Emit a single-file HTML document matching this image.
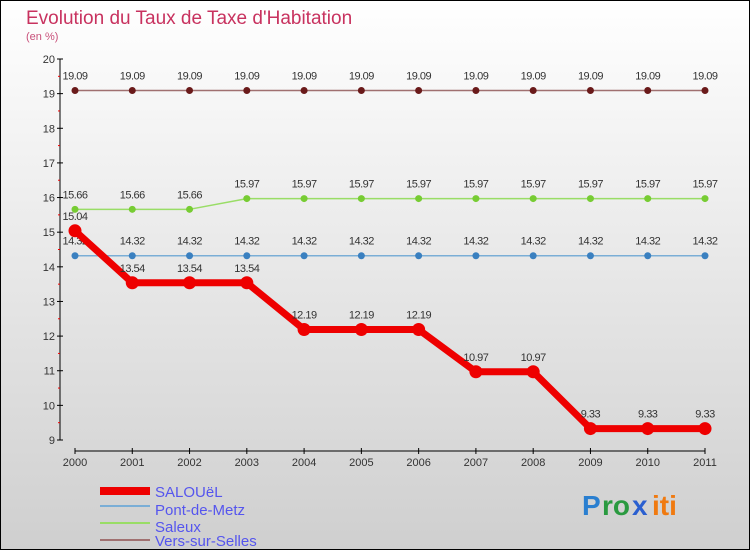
<!DOCTYPE html>
<html><head><meta charset="utf-8"><style>
body{margin:0}
svg text{font-family:"Liberation Sans",sans-serif}
</style></head><body>
<svg id="c" width="750" height="550" xmlns="http://www.w3.org/2000/svg">
<defs><linearGradient id="bg" x1="0" y1="0" x2="0" y2="1"><stop offset="0" stop-color="#ffffff"/><stop offset="1" stop-color="#cfcfcf"/></linearGradient></defs>
<rect x="0.5" y="0.5" width="749" height="549" fill="url(#bg)" stroke="#000"/>
<text x="26" y="24" font-size="19" fill="#c8325f">Evolution du Taux de Taxe d'Habitation</text>
<text x="26" y="40" font-size="11" fill="#c8507a">(en %)</text>
<g id="axes"></g><g id="series"></g>
<g font-size="15" fill="#5555ee">
<rect x="100" y="487" width="50" height="8" fill="#e00"/><text x="155" y="497">SALOUëL</text>
<line x1="100" y1="506" x2="150" y2="506" stroke="#7aaed6" stroke-width="2"/><text x="155" y="515">Pont-de-Metz</text>
<line x1="100" y1="523" x2="150" y2="523" stroke="#99dd66" stroke-width="2"/><text x="155" y="532">Saleux</text>
<line x1="100" y1="540" x2="150" y2="540" stroke="#a07070" stroke-width="2"/><text x="155" y="546">Vers-sur-Selles</text>
</g>
<g font-size="28" font-weight="bold"><text x="582" y="515" fill="#2a7fd0">P</text><text x="602" y="515" fill="#2a9a40">ro</text><text x="632" y="515" fill="#2a5fd0">x</text><text x="652" y="515" fill="#f07a10">iti</text></g>
</svg>
<script>
const years=[2000,2001,2002,2003,2004,2005,2006,2007,2008,2009,2010,2011];
const yTicks=[9,10,11,12,13,14,15,16,17,18,19,20];
const salouel=[15.04,13.54,13.54,13.54,12.19,12.19,12.19,10.97,10.97,9.33,9.33,9.33];
const pontDeMetz=[14.32,14.32,14.32,14.32,14.32,14.32,14.32,14.32,14.32,14.32,14.32,14.32];
const saleux=[15.66,15.66,15.66,15.97,15.97,15.97,15.97,15.97,15.97,15.97,15.97,15.97];
const vers=[19.09,19.09,19.09,19.09,19.09,19.09,19.09,19.09,19.09,19.09,19.09,19.09];
const NS="http://www.w3.org/2000/svg";
const x=i=>75+i*(630/(years.length-1));
const y=v=>440-(v-9)*(381/11);
function mk(t,a,p){const e=document.createElementNS(NS,t);for(const k in a)e.setAttribute(k,a[k]);p.appendChild(e);return e;}
const ax=document.getElementById('axes');
mk('line',{x1:60,y1:59,x2:60,y2:440,stroke:'#000'},ax);
mk('line',{x1:75,y1:451,x2:705,y2:451,stroke:'#000'},ax);
yTicks.forEach(v=>{mk('line',{x1:57,y1:y(v),x2:63,y2:y(v),stroke:'#000'},ax);
if(v<20)mk('line',{x1:58,y1:y(v+0.5),x2:60,y2:y(v+0.5),stroke:'#e00'},ax);
const t=mk('text',{x:55,y:y(v)+4,'text-anchor':'end','font-size':11,fill:'#333'},ax);t.textContent=v;

});
years.forEach((yr,i)=>{mk('line',{x1:x(i),y1:448,x2:x(i),y2:454,stroke:'#000'},ax);
const t=mk('text',{x:x(i),y:466,'text-anchor':'middle','font-size':11,fill:'#333'},ax);t.textContent=yr;

});
const sg=document.getElementById('series');
function draw(vals,color,dot,w,r,name,lab){
const g=mk('g',{},sg);


mk('polyline',{points:vals.map((v,i)=>x(i)+','+y(v)).join(' '),fill:'none',stroke:color,'stroke-width':w,'stroke-linejoin':'round'},g);
vals.forEach((v,i)=>{mk('circle',{cx:x(i),cy:y(v),r:r,fill:dot},g);
const t=mk('text',{x:x(i),y:y(v)-11,'text-anchor':'middle','font-size':11,fill:'#333','letter-spacing':'-0.5'},g);t.textContent=v.toFixed(2).replace(/0$/,'').replace(/\.$/,'');
if(lab)t.textContent=v.toString();});}
draw(vers,'#a07070','#6a1a1a',1.5,3.5,'series-vers-sur-selles',1);
draw(saleux,'#99dd66','#77cc33',1.5,3.5,'series-saleux',1);
draw(pontDeMetz,'#7aaed6','#3a80c0',1.5,3.5,'series-pont-de-metz',1);
draw(salouel,'#ee0000','#ee0000',7,6.5,'series-salouel',1);
</script>
</body></html>
